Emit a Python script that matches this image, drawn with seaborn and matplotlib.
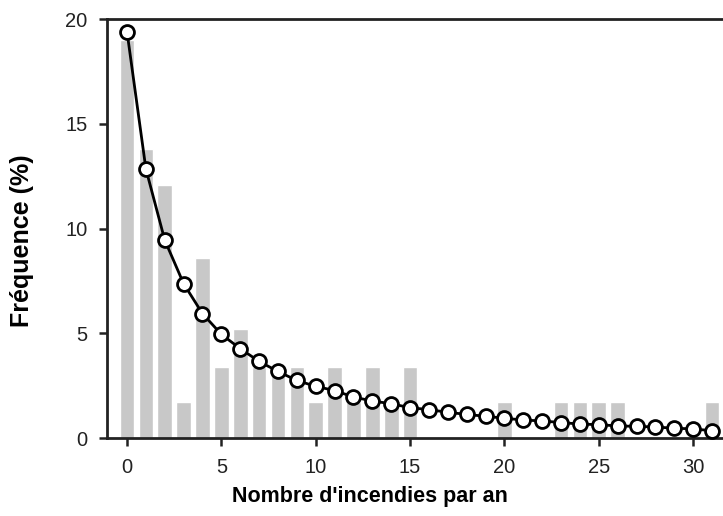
import numpy as np
import pandas as pd
import seaborn as sns
import matplotlib.pyplot as plt

# fires per year (0..31)
nb_incendies = list(range(32))
# observed frequency (%) - grey bars
freq_obs = [19.0, 13.8, 12.1, 1.7, 8.6, 3.4, 5.2, 3.4, 3.4, 3.4,
            1.7, 3.4, 1.7, 3.4, 1.7, 3.4, 0, 0, 0, 0,
            1.7, 0, 0, 1.7, 1.7, 1.7, 1.7, 0, 0, 0,
            0, 1.7]
# fitted frequency (%) - line with circles
freq_fit = [19.4, 12.85, 9.45, 7.37, 5.94, 4.95, 4.27, 3.66, 3.18, 2.75,
            2.47, 2.27, 1.96, 1.77, 1.64, 1.45, 1.36, 1.23, 1.13, 1.04,
            0.95, 0.86, 0.82, 0.74, 0.67, 0.64, 0.58, 0.56, 0.53, 0.47,
            0.44, 0.35]

df = pd.DataFrame({"n": nb_incendies, "obs": freq_obs, "fit": freq_fit})

sns.set_style("white")
plt.rcParams["font.family"] = ["Liberation Sans", "DejaVu Sans"]

fig = plt.figure(figsize=(7.23, 5.16), dpi=100)
ax = fig.add_axes([0.148, 0.151, 0.852, 0.812])

sns.barplot(data=df, x="n", y="obs", native_scale=True, color="#c8c8c8",
            saturation=1, width=0.78, ax=ax)
sns.lineplot(data=df, x="n", y="fit", color="black", linewidth=2,
             marker="o", markersize=10, markerfacecolor="white",
             markeredgecolor="black", markeredgewidth=2, ax=ax, clip_on=False,
             zorder=5)

ax.set_xlim(-1.06, 31.58)
ax.set_ylim(0, 20)
ax.set_xticks([0, 5, 10, 15, 20, 25, 30])
ax.set_yticks([0, 5, 10, 15, 20])
ax.tick_params(axis="both", direction="out", length=6, width=1.8,
               labelsize=14.5, color="#222222", labelcolor="#222222",
               bottom=True, left=True, pad=8)

for side in ["left", "bottom", "top"]:
    ax.spines[side].set_visible(True)
    ax.spines[side].set_linewidth(2)
    ax.spines[side].set_color("#222222")
ax.spines["right"].set_visible(False)

ax.set_xlabel("Nombre d'incendies par an", fontsize=15.5, fontweight="bold", color="black")
ax.set_ylabel("Fréquence (%)", fontsize=18, fontweight="bold", color="black")
# label placement as in the original figure
ax.xaxis.set_label_coords(0.427, -0.115)
ax.yaxis.set_label_coords(-0.118, 0.47)

fig.savefig("out.png", dpi=100)
